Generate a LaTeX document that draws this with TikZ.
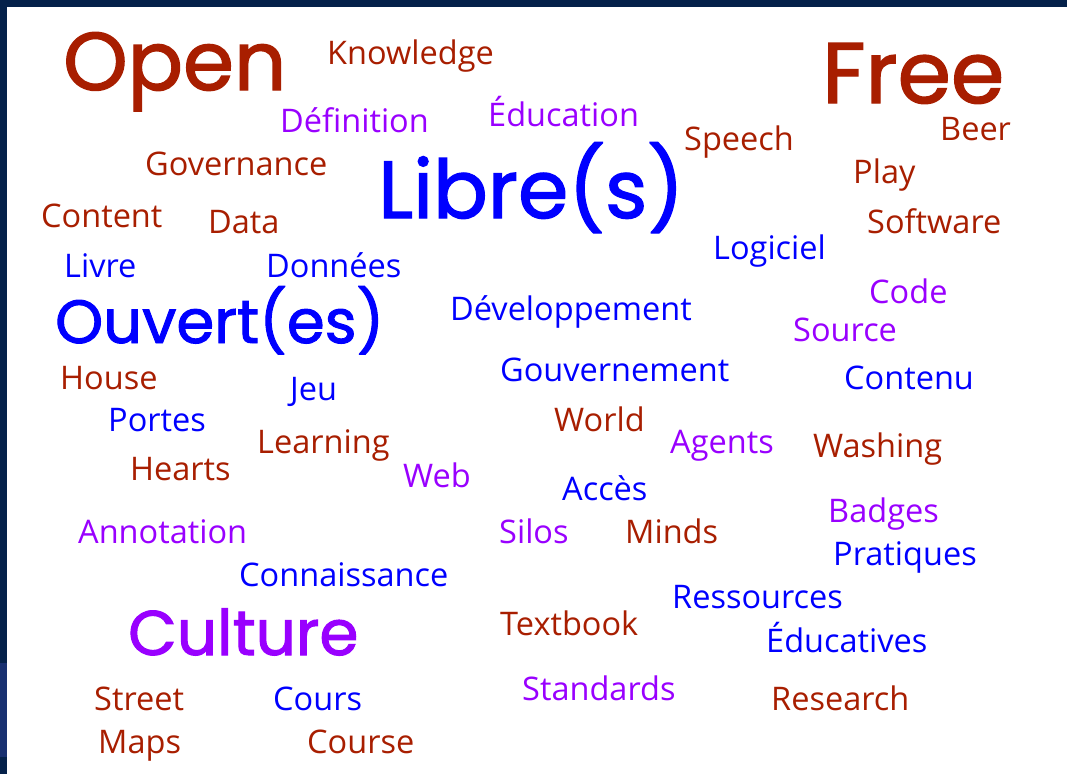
\documentclass[tikz,border=0pt]{standalone}
\usepackage{fontspec}
\setmainfont{Open Sans}
\newfontfamily\bigfont[FakeBold=1.6]{Poppins}
\definecolor{motrouge}{RGB}{168,30,0}
\definecolor{motviolet}{RGB}{153,0,255}
\definecolor{motbleu}{RGB}{0,0,255}
\definecolor{cadre}{RGB}{4,33,74}
\definecolor{cadreclair}{RGB}{24,48,112}
\tikzset{
  mot/.style={anchor=base west,inner sep=0pt,font=\fontsize{32.5}{32.5}\selectfont},
  grand/.style={anchor=base west,inner sep=0pt,font=\bigfont\fontsize{#1}{#1}\selectfont},
}
\begin{document}
\begin{tikzpicture}[x=1pt,y=-1pt]
      \fill[cadre] (0,0) rectangle (1067,774);
      \fill[white] (7,7) rectangle (1067,774);
      \fill[cadreclair] (0,663) rectangle (7,757);
      \useasboundingbox (0,0) rectangle (1067,774);
      % grands mots
      \node[grand=82,motrouge] (open) at (63,90) {Open};
      \node[grand=86,motrouge] (free) at (822,103) {Free};
      \node[grand=81,motbleu] (libre) at (378,218) {Libre(s)};
      \node[grand=61,motbleu] (ouvert) at (55,343) {Ouvert(es)};
      \node[grand=63,motviolet] (culture) at (128,655) {Culture};
      % petits mots
      \node[mot,motrouge] (knowledge) at (327,64) {Knowledge};
      \node[mot,motviolet] (definition) at (280,132) {Définition};
      \node[mot,motviolet] (education) at (488,126) {Éducation};
      \node[mot,motrouge] (speech) at (684,150) {Speech};
      \node[mot,motrouge] (beer) at (940,140) {Beer};
      \node[mot,motrouge] (governance) at (145,175) {Governance};
      \node[mot,motrouge] (play) at (853,183) {Play};
      \node[mot,motrouge] (content) at (41,227) {Content};
      \node[mot,motrouge] (data) at (208,233) {Data};
      \node[mot,motrouge] (software) at (867,233) {Software};
      \node[mot,motbleu] (logiciel) at (713,259) {Logiciel};
      \node[mot,motbleu] (livre) at (64,277) {Livre};
      \node[mot,motbleu] (donnees) at (266,277) {Données};
      \node[mot,motviolet] (code) at (869,303) {Code};
      \node[mot,motbleu] (developpement) at (450,320) {Développement};
      \node[mot,motviolet] (source) at (793,341) {Source};
      \node[mot,motrouge] (house) at (60,389) {House};
      \node[mot,motbleu] (gouvernement) at (500,381) {Gouvernement};
      \node[mot,motbleu] (contenu) at (844,389) {Contenu};
      \node[mot,motbleu] (jeu) at (290,400) {Jeu};
      \node[mot,motbleu] (portes) at (108,431) {Portes};
      \node[mot,motrouge] (world) at (554,431) {World};
      \node[mot,motrouge] (learning) at (257,453) {Learning};
      \node[mot,motviolet] (agents) at (670,453) {Agents};
      \node[mot,motrouge] (washing) at (813,457) {Washing};
      \node[mot,motrouge] (hearts) at (130,480) {Hearts};
      \node[mot,motviolet] (web) at (403,487) {Web};
      \node[mot,motbleu] (acces) at (562,500) {Accès};
      \node[mot,motviolet] (badges) at (828,522) {Badges};
      \node[mot,motviolet] (annotation) at (78,543) {Annotation};
      \node[mot,motviolet] (silos) at (499,543) {Silos};
      \node[mot,motrouge] (minds) at (625,543) {Minds};
      \node[mot,motbleu] (pratiques) at (833,565) {Pratiques};
      \node[mot,motbleu] (connaissance) at (239,586) {Connaissance};
      \node[mot,motbleu] (ressources) at (672,608) {Ressources};
      \node[mot,motrouge] (textbook) at (500,635) {Textbook};
      \node[mot,motbleu] (educatives) at (766,652) {Éducatives};
      \node[mot,motviolet] (standards) at (522,700) {Standards};
      \node[mot,motrouge] (street) at (94,710) {Street};
      \node[mot,motbleu] (cours) at (273,710) {Cours};
      \node[mot,motrouge] (research) at (771,710) {Research};
      \node[mot,motrouge] (maps) at (98,753) {Maps};
      \node[mot,motrouge] (course) at (307,753) {Course};
    \end{tikzpicture}
\end{document}
